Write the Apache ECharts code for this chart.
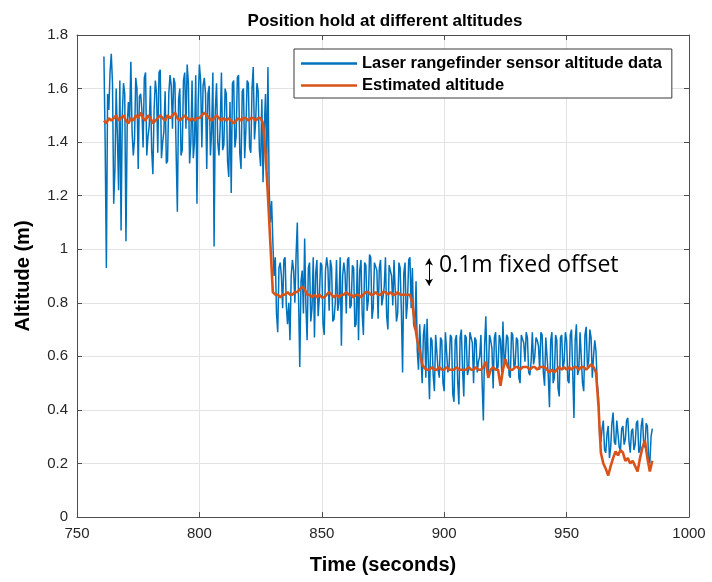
<!DOCTYPE html>
<html>
<head>
<meta charset="utf-8">
<script src="https://cdn.jsdelivr.net/npm/echarts@6/dist/echarts.min.js"></script>
<style>html,body{margin:0;padding:0;background:#fff}#chart{width:712px;height:582px}</style>
</head>
<body>
<div id="chart"></div>
<script>
// ---- data ----
const titleText = 'Position hold at different altitudes';
const xAxisName = 'Time (seconds)';
const yAxisName = 'Altitude (m)';
const seriesNames = ['Laser rangefinder sensor altitude data', 'Estimated altitude'];
const annotationText = '0.1m fixed offset';
const xTicks = [750, 800, 850, 900, 950, 1000];
const yTicks = [0, 0.2, 0.4, 0.6, 0.8, 1, 1.2, 1.4, 1.6, 1.8];

const laserStart = 761;   // seconds
const laserStep = 0.5;    // seconds between laser samples
const laserAltitude = [
  1.72,1.40, 0.93,1.58, 1.52,1.66, 1.73,1.62, 1.17,1.30, 1.60,1.42, 1.22,1.63, 1.07,1.50, 1.62,1.58, 1.03,1.46, // 761
  1.55,1.48, 1.70,1.44, 1.35,1.41, 1.64,1.60, 1.30,1.57, 1.58,1.52, 1.38,1.64, 1.66,1.35, 1.42,1.46, 1.61,1.37, // 771
  1.28,1.52, 1.63,1.58, 1.36,1.66, 1.67,1.34, 1.40,1.44, 1.59,1.32, 1.33,1.58, 1.65,1.61, 1.45,1.64, 1.62,1.36, // 781
  1.14,1.56, 1.60,1.35, 1.37,1.63, 1.66,1.45, 1.69,1.62, 1.32,1.40, 1.63,1.34, 1.40,1.65, 1.17,1.55, 1.69,1.63, // 791
  1.38,1.61, 1.64,1.58, 1.30,1.58, 1.61,1.35, 1.44,1.66, 1.01,1.52, 1.62,1.40, 1.35,1.46, 1.66,1.37, 1.39,1.60, // 801
  1.58,1.33, 1.27,1.55, 1.21,1.62, 1.63,1.38, 1.42,1.64, 1.65,1.36, 1.30,1.59, 1.60,1.34, 1.45,1.63, 1.62,1.38, // 811
  1.36,1.60, 1.68,1.41, 1.48,1.62, 1.59,1.37, 1.31,1.56, 1.25,1.45, 1.58,1.30, 1.68,1.22, 1.10,1.18, 1.03,0.90, // 821
  0.97,0.76, 0.69,0.93, 0.95,0.90, 0.78,0.96, 0.97,0.79, 0.72,0.80, 0.66,0.90, 0.96,0.92, 0.80,0.98, 1.10,0.82, // 831
  0.56,0.88, 0.92,0.76, 1.04,0.79, 0.66,0.93, 0.95,0.73, 0.78,0.97, 0.67,0.91, 0.96,0.75, 0.82,0.95, 0.94,0.72, // 841
  0.68,0.92, 0.97,0.93, 0.77,0.96, 0.93,0.73, 0.74,0.80, 0.96,0.77, 0.80,0.97, 0.64,0.90, 0.95,0.91, 0.76,0.96, // 851
  0.97,0.78, 0.79,0.94, 0.93,0.71, 0.72,0.96, 0.66,0.92, 0.96,0.76, 0.68,0.95, 0.94,0.77, 0.81,0.98, 0.97,0.74, // 861
  0.78,0.95, 0.95,0.92, 0.74,0.93, 0.96,0.79, 0.82,0.86, 0.97,0.75, 0.70,0.94, 0.94,0.90, 0.79,0.96, 0.96,0.73, // 871
  0.76,0.95, 0.93,0.77, 0.54,0.91, 0.95,0.74, 0.80,0.96, 0.97,0.78, 0.93,0.72, 0.70,0.88, 0.62,0.55, 0.72,0.60, // 881
  0.50,0.68, 0.72,0.52, 0.74,0.58, 0.44,0.67, 0.66,0.53, 0.47,0.68, 0.68,0.55, 0.52,0.67, 0.66,0.50, 0.47,0.69, // 891
  0.69,0.54, 0.56,0.68, 0.67,0.46, 0.43,0.66, 0.68,0.51, 0.42,0.67, 0.70,0.55, 0.45,0.68, 0.67,0.53, 0.55,0.69, // 901
  0.69,0.65, 0.50,0.67, 0.66,0.54, 0.58,0.60, 0.68,0.50, 0.36,0.64, 0.75,0.56, 0.52,0.68, 0.66,0.63, 0.48,0.67, // 911
  0.69,0.55, 0.56,0.68, 0.66,0.54, 0.73,0.57, 0.60,0.68, 0.67,0.53, 0.52,0.69, 0.68,0.56, 0.57,0.67, 0.66,0.52, // 921
  0.50,0.68, 0.68,0.65, 0.58,0.69, 0.67,0.54, 0.53,0.58, 0.69,0.57, 0.60,0.67, 0.66,0.64, 0.55,0.69, 0.68,0.54, // 931
  0.49,0.67, 0.67,0.53, 0.41,0.66, 0.69,0.50, 0.52,0.68, 0.66,0.48, 0.45,0.67, 0.68,0.55, 0.58,0.69, 0.66,0.51, // 941
  0.50,0.68, 0.70,0.54, 0.37,0.66, 0.72,0.53, 0.55,0.69, 0.69,0.50, 0.47,0.68, 0.71,0.56, 0.58,0.70, 0.67,0.52, // 951
  0.60,0.66, 0.62,0.50, 0.45,0.30, 0.28,0.33, 0.36,0.25, 0.24,0.31, 0.34,0.22, 0.26,0.35, 0.39,0.28, 0.27,0.36, // 961
  0.36,0.26, 0.25,0.33, 0.34,0.27, 0.29,0.36, 0.37,0.28, 0.24,0.32, 0.33,0.25, 0.27,0.35, 0.36,0.24, 0.25,0.34, // 971
  0.37,0.27, 0.26,0.35, 0.34,0.22, 0.20,0.30, 0.33                                                             // 981
];

const estStart = 761;     // seconds
const estStep = 1;        // seconds between estimate samples
const estimatedAltitude = [
  1.48, 1.47, 1.49, 1.48, 1.49, 1.50, 1.48, 1.49, 1.50, 1.48, // 761
  1.47, 1.49, 1.48, 1.50, 1.49, 1.51, 1.49, 1.48, 1.50, 1.49, // 771
  1.47, 1.48, 1.49, 1.50, 1.49, 1.48, 1.50, 1.49, 1.50, 1.51, // 781
  1.49, 1.48, 1.49, 1.50, 1.49, 1.48, 1.49, 1.48, 1.49, 1.49, // 791
  1.50, 1.51, 1.50, 1.49, 1.48, 1.49, 1.50, 1.49, 1.48, 1.49, // 801
  1.48, 1.49, 1.48, 1.47, 1.48, 1.49, 1.48, 1.49, 1.49, 1.48, // 811
  1.49, 1.49, 1.48, 1.49, 1.49, 1.47, 1.36, 1.20, 1.02, 0.84, // 821
  0.83, 0.83, 0.82, 0.83, 0.83, 0.84, 0.83, 0.83, 0.84, 0.84, // 831
  0.85, 0.86, 0.85, 0.83, 0.83, 0.82, 0.83, 0.82, 0.83, 0.82, // 841
  0.82, 0.83, 0.84, 0.83, 0.82, 0.83, 0.82, 0.83, 0.83, 0.84, // 851
  0.83, 0.83, 0.82, 0.83, 0.83, 0.82, 0.83, 0.84, 0.84, 0.83, // 861
  0.83, 0.84, 0.83, 0.83, 0.84, 0.84, 0.83, 0.84, 0.83, 0.83, // 871
  0.84, 0.83, 0.83, 0.83, 0.83, 0.83, 0.80, 0.72, 0.66, 0.62, // 881
  0.57, 0.555, 0.55, 0.55, 0.56, 0.55, 0.55, 0.56, 0.55, 0.55, // 891
  0.56, 0.55, 0.55, 0.55, 0.56, 0.55, 0.55, 0.55, 0.55, 0.56, // 901
  0.55, 0.55, 0.56, 0.55, 0.55, 0.56, 0.58, 0.52, 0.55, 0.56, // 911
  0.55, 0.55, 0.49, 0.55, 0.59, 0.56, 0.55, 0.55, 0.56, 0.56, // 921
  0.55, 0.56, 0.56, 0.56, 0.55, 0.56, 0.56, 0.55, 0.56, 0.56, // 931
  0.56, 0.55, 0.54, 0.55, 0.54, 0.55, 0.56, 0.55, 0.56, 0.55, // 941
  0.56, 0.55, 0.56, 0.56, 0.55, 0.56, 0.56, 0.55, 0.56, 0.57, // 951
  0.56, 0.54, 0.42, 0.24, 0.20, 0.18, 0.155, 0.19, 0.22, 0.245, // 961
  0.23, 0.25, 0.24, 0.21, 0.22, 0.20, 0.21, 0.19, 0.17, 0.22, // 971
  0.26, 0.285, 0.22, 0.17, 0.21                               // 981
];

// annotation arrow end points (time, altitude)
const offsetArrowTime = 893.8;
const offsetArrowTop = 0.965;
const offsetArrowBottom = 0.864;

// ---- build ----
function pairs(vals, start, step) { return vals.map((v, i) => [start + i * step, v]); }
const font = '"Liberation Sans", Arial, Helvetica, sans-serif';
const axisColor = '#4d4d4d';
const xMin = xTicks[0], xMax = xTicks[xTicks.length - 1], xInt = xTicks[1] - xTicks[0];
const yMin = yTicks[0], yMax = yTicks[yTicks.length - 1], yInt = 0.2;

const chart = echarts.init(document.getElementById('chart'), null, { renderer: 'canvas' });
const option = {
  animation: false,
  backgroundColor: '#fff',
  title: {
    text: titleText, left: 380, top: 8, textAlign: 'center',
    textStyle: { fontFamily: font, fontWeight: 'bold', fontSize: 17, color: '#000' }
  },
  grid: { left: 77, right: 23, top: 35, bottom: 65, show: false },
  legend: {
    orient: 'vertical', left: 294, top: 49,
    backgroundColor: '#fff', borderColor: '#3a3a3a', borderWidth: 1,
    padding: [6, 10, 4, 7], itemGap: 5, itemWidth: 56, itemHeight: 2.5,
    textStyle: { fontFamily: font, fontWeight: 'bold', fontSize: 16.5, color: '#000' },
    data: [
      { name: seriesNames[0], icon: 'rect', itemStyle: { color: '#0072BD' } },
      { name: seriesNames[1], icon: 'rect', itemStyle: { color: '#D95319' } }
    ]
  },
  xAxis: [{
    type: 'value', min: xMin, max: xMax, interval: xInt, position: 'bottom',
    name: xAxisName, nameLocation: 'middle', nameGap: 38,
    nameTextStyle: { fontFamily: font, fontWeight: 'bold', fontSize: 20, color: '#000' },
    axisLine: { show: true, onZero: false, lineStyle: { color: axisColor, width: 1 } },
    axisTick: { show: true, inside: true, length: 5, lineStyle: { color: axisColor } },
    axisLabel: { fontFamily: font, fontSize: 15, color: '#262626', margin: 9, formatter: v => String(v) },
    splitLine: { show: true, lineStyle: { color: '#e3e3e3', width: 1 } }
  }, {
    type: 'value', min: xMin, max: xMax, interval: xInt, position: 'top',
    axisLine: { show: true, onZero: false, lineStyle: { color: axisColor, width: 1 } },
    axisTick: { show: true, inside: true, length: 5, lineStyle: { color: axisColor } },
    axisLabel: { show: false }, splitLine: { show: false }
  }],
  yAxis: [{
    type: 'value', min: yMin, max: yMax, interval: yInt, position: 'left',
    name: yAxisName, nameLocation: 'middle', nameGap: 44, nameRotate: 90,
    nameTextStyle: { fontFamily: font, fontWeight: 'bold', fontSize: 20, color: '#000' },
    axisLine: { show: true, onZero: false, lineStyle: { color: axisColor, width: 1 } },
    axisTick: { show: true, inside: true, length: 5, lineStyle: { color: axisColor } },
    axisLabel: { fontFamily: font, fontSize: 15, color: '#262626', margin: 9,
      formatter: v => String(+v.toFixed(1)) },
    splitLine: { show: true, lineStyle: { color: '#e3e3e3', width: 1 } }
  }, {
    type: 'value', min: yMin, max: yMax, interval: yInt, position: 'right',
    axisLine: { show: true, onZero: false, lineStyle: { color: axisColor, width: 1 } },
    axisTick: { show: true, inside: true, length: 5, lineStyle: { color: axisColor } },
    axisLabel: { show: false }, splitLine: { show: false }
  }],
  series: [{
    name: seriesNames[0], type: 'line', xAxisIndex: 0, yAxisIndex: 0,
    data: pairs(laserAltitude, laserStart, laserStep), showSymbol: false, symbol: 'none',
    lineStyle: { color: '#0072BD', width: 1.5 }, itemStyle: { color: '#0072BD' },
    z: 2
  }, {
    name: seriesNames[1], type: 'line', xAxisIndex: 0, yAxisIndex: 0,
    data: pairs(estimatedAltitude, estStart, estStep), showSymbol: false, symbol: 'none',
    lineStyle: { color: '#D95319', width: 2.6 }, itemStyle: { color: '#D95319' },
    z: 3,
    markLine: {
      silent: true, symbol: ['arrow', 'arrow'], symbolSize: [6, 7],
      lineStyle: { color: '#000', width: 1, type: 'solid' },
      label: { show: false },
      data: [[{ coord: [offsetArrowTime, offsetArrowTop] }, { coord: [offsetArrowTime, offsetArrowBottom] }]]
    }
  }]
};
chart.setOption(option);
const labelPos = chart.convertToPixel({ xAxisIndex: 0, yAxisIndex: 0 }, [offsetArrowTime, (offsetArrowTop + offsetArrowBottom) / 2]);
chart.setOption({
  graphic: [{
    type: 'text', x: labelPos[0] + 10, y: labelPos[1] - 7,
    style: { text: annotationText, font: '23px "Open Sans", "Noto Sans", sans-serif', fill: '#000',
      textVerticalAlign: 'middle', verticalAlign: 'middle' }
  }]
});
</script>
</body>
</html>
